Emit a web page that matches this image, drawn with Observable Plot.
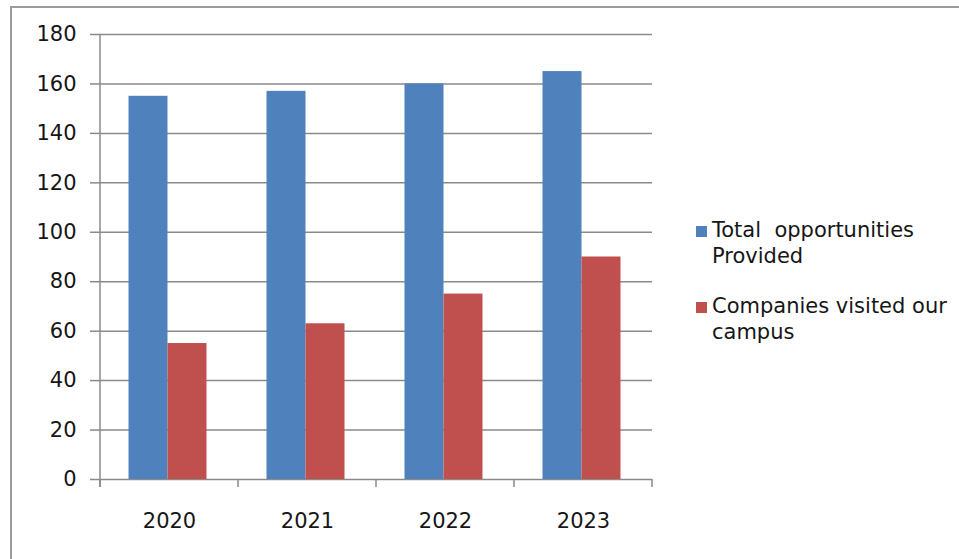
<!DOCTYPE html>
<html>
<head>
<meta charset="utf-8">
<script src="https://cdn.jsdelivr.net/npm/d3@7"></script>
<script src="https://cdn.jsdelivr.net/npm/@observablehq/plot@0.6"></script>
<style>
  html, body { margin: 0; padding: 0; background: #fff; overflow: hidden; }
  #wrap { position: relative; width: 959px; height: 559px; font-family: "DejaVu Sans", sans-serif; }
  #frame { position: absolute; left: 10px; top: 6px; width: 960px; height: 560px;
           border-left: 2px solid #9a9a9a; border-top: 2px solid #9a9a9a; pointer-events: none; }
  #chart { position: absolute; left: 0; top: 0; }
  #legend { position: absolute; left: 696px; top: 0; font-size: 21px; line-height: 26px; color: #161616; }
  .item { position: absolute; left: 0; white-space: pre; }
  .sw { position: absolute; left: 0; width: 11px; height: 11px; }
  .lab { position: absolute; left: 16px; top: 0; }
</style>
</head>
<body>
<div id="wrap">
  <div id="chart"></div>
  <div id="frame"></div>
  <div id="legend"></div>
</div>
<script>
// ---- data ----
const years = ["2020", "2021", "2022", "2023"];
const seriesNames = ["Total  opportunities Provided", "Companies visited our campus"];
const legendLines = [["Total  opportunities", "Provided"], ["Companies visited our", "campus"]];
const totalOpportunities = [155, 157, 160, 165];
const companiesVisited = [55, 63, 75, 90];
const yTicks = [0, 20, 40, 60, 80, 100, 120, 140, 160, 180];
const colors = ["#4F81BD", "#C0504D"];

const table = years.flatMap((yr, i) => [
  {year: yr, series: seriesNames[0], value: totalOpportunities[i]},
  {year: yr, series: seriesNames[1], value: companiesVisited[i]}
]);

const grid = "#8a8a8a";

const chart = Plot.plot({
  width: 959,
  height: 559,
  marginLeft: 100,
  marginRight: 307,
  marginTop: 34,
  marginBottom: 80,
  style: {fontFamily: "DejaVu Sans, sans-serif", fontSize: "21px", color: "#161616", background: "transparent", overflow: "visible"},
  fx: {domain: years, paddingInner: 0, paddingOuter: 0, axis: "bottom", tickSize: 0, tickPadding: 34, label: null},
  x: {domain: seriesNames, paddingInner: 0, paddingOuter: 0.75, axis: null},
  y: {domain: [0, 180], axis: null},
  color: {domain: seriesNames, range: colors},
  marks: [
    Plot.ruleY(yTicks, {stroke: grid, strokeWidth: 1.5}),
    Plot.barY(table, {fx: "year", x: "series", y: "value", fill: "series", dx: -1.5}),
    Plot.axisY(yTicks, {anchor: "left", tickSize: 10, tickPadding: 14, stroke: grid, strokeWidth: 1.5, fill: "#161616", tickFormat: d => String(d), label: null})
  ]
});
document.getElementById("chart").appendChild(chart);

// axis line and category boundary ticks, placed from the library's scales
try {
  const fxs = chart.scale("fx");
  const ys = chart.scale("y");
  const y0 = ys.apply(0);
  const yTop = ys.apply(180);
  const step = fxs.step !== undefined ? fxs.step : fxs.bandwidth;
  const bounds = years.map(d => fxs.apply(d));
  bounds.push(fxs.apply(years[years.length - 1]) + step);
  const svg = d3.select(chart);
  const g = svg.append("g").attr("stroke", grid).attr("stroke-width", 1.5);
  g.append("line").attr("x1", bounds[0]).attr("x2", bounds[0]).attr("y1", yTop).attr("y2", y0 + 8);
  bounds.forEach(b => g.append("line").attr("x1", b).attr("x2", b).attr("y1", y0).attr("y2", y0 + 8));
} catch (e) { console.error(e); }

// legend
const legend = document.getElementById("legend");
const itemTops = [217, 293];
legendLines.forEach((lines, i) => {
  const item = document.createElement("div");
  item.className = "item";
  item.style.top = itemTops[i] + "px";
  const sw = document.createElement("div");
  sw.className = "sw";
  sw.style.background = colors[i];
  sw.style.top = "9px";
  item.appendChild(sw);
  const lab = document.createElement("div");
  lab.className = "lab";
  lab.textContent = lines.join("\n");
  item.appendChild(lab);
  legend.appendChild(item);
});
</script>
</body>
</html>
